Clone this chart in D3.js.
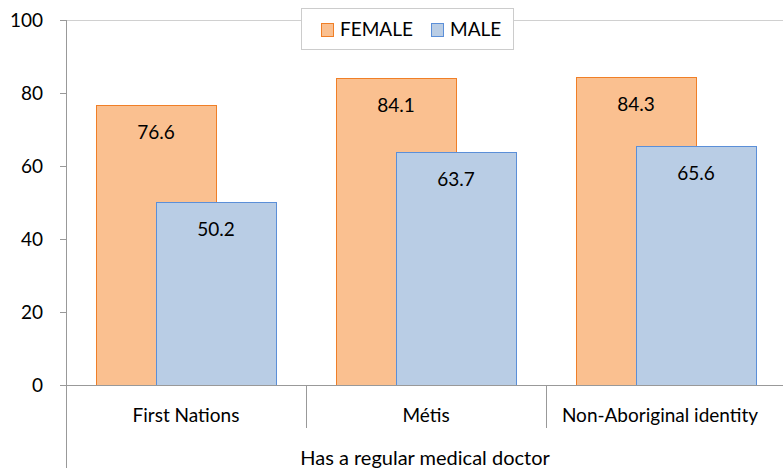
<!DOCTYPE html>
<html>
<head>
<meta charset="utf-8">
<script src="https://cdn.jsdelivr.net/npm/d3@7"></script>
<style>
  body { margin: 0; background: #fff; }
  text { font-family: "Lato", "Open Sans", sans-serif; fill: #000; }
</style>
</head>
<body>
<div id="chart"></div>
<script>
// chart data
var categories = ["First Nations", "Métis", "Non-Aboriginal identity"];
var seriesNames = ["FEMALE", "MALE"];
var female = [76.6, 84.1, 84.3];
var male = [50.2, 63.7, 65.6];
var yTicks = [0, 20, 40, 60, 80, 100];
var groupLabel = "Has a regular medical doctor";

var width = 783, height = 470;
var fills = { FEMALE: "#fac090", MALE: "#b9cde5" };
var strokes = { FEMALE: "#f07f27", MALE: "#5b8fd8" };

var svg = d3.select("#chart").append("svg")
    .attr("width", width)
    .attr("height", height);

// scales
var x = d3.scaleBand().domain(categories).range([66, 786]);
var y = d3.scaleLinear().domain([0, 100]).range([385, 20]);

// top border line
svg.append("line")
    .attr("x1", 66).attr("x2", width)
    .attr("y1", y(100) + 0.5).attr("y2", y(100) + 0.5)
    .attr("stroke", "#d0d0d0").attr("stroke-width", 1);

// bars: female first, male drawn over it with an offset
var barW = x.bandwidth() / 2;
var series = [
    { name: "FEMALE", values: female, offset: x.bandwidth() * 0.125 },
    { name: "MALE", values: male, offset: x.bandwidth() * 0.375 }
];

series.forEach(function(s) {
    var g = svg.append("g");
    g.selectAll("rect")
        .data(s.values)
        .enter()
        .append("rect")
        .attr("x", function(d, i) { return Math.round(x(categories[i]) + s.offset) + 0.5; })
        .attr("y", function(d) { return Math.round(y(d)) + 0.5; })
        .attr("width", barW)
        .attr("height", function(d) { return y(0) - Math.round(y(d)); })
        .attr("fill", fills[s.name])
        .attr("stroke", strokes[s.name])
        .attr("stroke-width", 1);
    g.selectAll("text")
        .data(s.values)
        .enter()
        .append("text")
        .attr("x", function(d, i) { return x(categories[i]) + s.offset + barW / 2; })
        .attr("y", function(d) { return y(d) + 34; })
        .attr("text-anchor", "middle")
        .style("font-size", "19px")
        .text(function(d) { return d.toFixed(1); });
});

// y axis
var yAxis = svg.append("g")
    .attr("transform", "translate(66,0)")
    .call(d3.axisLeft(y).tickValues(yTicks).tickSize(6).tickPadding(17));
yAxis.select(".domain").remove();
yAxis.selectAll(".tick line").attr("stroke", "#999");
yAxis.selectAll(".tick text")
    .style("font-size", "19px")
    .style("font-family", "Lato, sans-serif");

svg.append("line")
    .attr("x1", 66.5).attr("x2", 66.5)
    .attr("y1", y(100)).attr("y2", 468)
    .attr("stroke", "#999");

// baseline
svg.append("line")
    .attr("x1", 66).attr("x2", width)
    .attr("y1", y(0) + 0.5).attr("y2", y(0) + 0.5)
    .attr("stroke", "#999");

// category separators
categories.slice(1).forEach(function(c) {
    svg.append("line")
        .attr("x1", Math.round(x(c)) + 0.5).attr("x2", Math.round(x(c)) + 0.5)
        .attr("y1", y(0)).attr("y2", 428)
        .attr("stroke", "#999");
});

// category labels
svg.append("g").selectAll("text")
    .data(categories)
    .enter()
    .append("text")
    .attr("x", function(d) { return x(d) + x.bandwidth() / 2 - (d === "Non-Aboriginal identity" ? 6 : 0); })
    .attr("y", 422)
    .attr("text-anchor", "middle")
    .style("font-size", "19px")
    .text(function(d) { return d; });

svg.append("text")
    .attr("x", 425)
    .attr("y", 465)
    .attr("text-anchor", "middle")
    .style("font-size", "20px")
    .text(groupLabel);

// legend
var legend = svg.append("g");
legend.append("rect")
    .attr("x", 301.5).attr("y", 8.5)
    .attr("width", 212).attr("height", 41)
    .attr("fill", "#fff").attr("stroke", "#ccc");
var legendX = [321, 431];
seriesNames.forEach(function(n, i) {
    legend.append("rect")
        .attr("x", legendX[i] + 0.5).attr("y", 23.5)
        .attr("width", 12).attr("height", 13)
        .attr("fill", fills[n]).attr("stroke", strokes[n]);
    legend.append("text")
        .attr("x", legendX[i] + 19)
        .attr("y", 36)
        .style("font-size", "19px")
        .text(n);
});
</script>
</body>
</html>
